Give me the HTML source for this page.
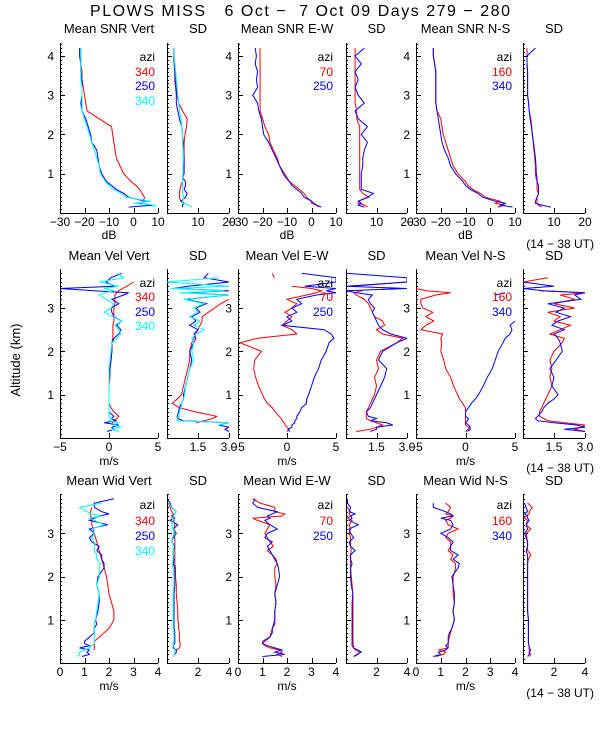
<!DOCTYPE html>
<html><head><meta charset="utf-8">
<style>
html,body{margin:0;padding:0;background:#fff;}
svg{display:block;font-family:"Liberation Sans",sans-serif;}
</style></head>
<body>
<svg id="chart" width="600" height="750" viewBox="0 0 600 750" xmlns="http://www.w3.org/2000/svg">
<rect width="600" height="750" fill="#fff"/>
<text x="90" y="16" font-size="16" textLength="420" lengthAdjust="spacing" xml:space="preserve">PLOWS MISS   6 Oct −  7 Oct 09 Days 279 − 280</text>
<text x="0" y="0" font-size="13" text-anchor="middle" transform="translate(20,360) rotate(-90)">Altitude (km)</text>
<text x="594" y="248" font-size="12" text-anchor="end">(14 − 38 UT)</text>
<text x="594" y="472" font-size="12" text-anchor="end">(14 − 38 UT)</text>
<text x="594" y="697" font-size="12" text-anchor="end">(14 − 38 UT)</text>
<g id="plots"></g>
</svg>
<script>
// ---------- altitude grids ----------
const alt1 = [0.15,0.2,0.25,0.3,0.4,0.5,0.6,0.7,0.8,0.9,1.0,1.2,1.4,1.6,1.8,2.0,2.2,2.4,2.6,2.8,3.0,3.2,3.4,3.6,3.8,4.0,4.2];
const alt2 = [0.15,0.2,0.25,0.3,0.35,0.4,0.45,0.5,0.6,0.7,0.8,0.9,1.0,1.2,1.4,1.6,1.8,2.0,2.2,2.3,2.4,2.5,2.6,2.7,2.8,2.9,3.0,3.1,3.2,3.3,3.35,3.4,3.45,3.5,3.6,3.7,3.8];
const alt3 = alt2;

// ---------- row 1: SNR ----------
const snrVertA = [null,null,null,4,4.5,3.5,2.5,1,-1,-2.5,-4,-5.5,-7,-7.5,-8,-8.5,-9,-14,-19,-19.5,-20,-20.5,-21,-21,-21.5,-21.5,-21.5];
const snrVertB = [-2,8,2,5,-2,-4,-7,-9,-11,-12,-13,-14,-14.5,-15,-17,-17.5,-18.5,-19.5,-21,-21.5,-21,-21,-21,-21.5,-21.5,-22,-22];
const snrVertC = [8,9,0,7,-3,-5,-8,-10,-11.5,-12.5,-13.5,-14,-15,-16,-17,-18,-19,-20,-21,-21,-21,-21,-21.5,-21.5,-21.5,-21.5,-21.5];
const snrVertSdA = [null,null,null,4.5,4,4,4.2,4.5,5,5,5.2,5.5,5.5,5.5,5.5,5.8,6.3,6.5,5,3.8,3.2,3,2.8,2.6,2.5,2.3,2.2];
const snrVertSdB = [5,5,5.5,4.5,6,6.5,5.5,6,6,5,5.5,5.5,5.5,5.2,5.2,5,4.8,4,3.5,3,3,2.8,2.5,2.5,2.3,2.2,2.2];
const snrVertSdC = [8,7,5,5,5.5,5,5,5,5,5,5.2,5.2,5.3,5.2,5,5,4.8,4.5,4,3.8,3.5,3.3,3,2.8,2.5,2.3,2.2];
const snrEwA = [3,2,0,0,-2,-3,-5,-7,-9,-10,-11,-13,-14,-15.5,-17,-17.5,-19,-20,-21,-21,-21,-21,-21,-21,-21,-21,-21];
const snrEwB = [4,2,1,0,-3,-4,-6,-8,-9,-10.5,-11.5,-13,-14.5,-16,-17.5,-19.5,-20,-20.5,-21.5,-22,-24,-22,-22.5,-22,-23,-22.5,-23];
const snrEwSdA = [7,6,4,4,7.5,5.5,4.5,4.5,4.5,4.5,4.5,4.5,4.5,4.5,4.5,4.5,4.5,3.5,3.5,3,3,3,3,3,3,3,3];
const snrEwSdB = [6,4,5,4,7,9,5,5,5,5,5,5.5,5.5,6,7,5,7,4,3,6,4,3,4,3,5,3,6];
const snrNsA = [3,6,2,4,-2,-4,-7,-9,-10,-11.5,-13,-15,-16,-17,-18,-19,-19.5,-20,-21.5,-22,-22,-22,-22,-22,-22.5,-23,-23];
const snrNsB = [9,4,6,2,-3,-5,-8,-10,-11,-12.5,-14,-16,-17,-18.5,-19.5,-20,-20.5,-21,-21.5,-22,-22,-22,-22,-22,-22.5,-23,-23];
const snrNsSdA = [6,5,4.5,4.5,4.5,5,4.5,4.5,4.5,4.2,4,4,3.8,3.5,3.3,3,2.8,2.5,2,1.8,1.5,1.5,1.5,1.5,1.3,1.3,1.3];
const snrNsSdB = [9,6,4,4,4.5,5,5,5,4.5,4.5,4.3,4.2,4,3.7,3.4,3,2.7,2.3,2,1.8,1.5,1.5,1.5,1.5,1.3,1.3,4];

// ---------- row 2: velocity ----------
const velVertA = [null,null,null,null,0.3,0.6,0.8,1.0,0.5,0.2,0,0,0,0,0.1,0.1,0.2,0.3,0.3,0.4,0.4,0.4,0.4,0.5,0.5,0.5,0.5,0.6,0.6,0.6,0.8,1.0,1.4,1.8,2.5,null,null];
const velVertB = [-0.2,0.5,0.3,1.0,-0.5,0.7,0.2,0.5,0,0,0,0,0,0,0,0.1,0.2,0.3,0.3,0.5,1.0,1.2,0.8,1.3,0.5,0.3,0.2,1.0,0.3,1.5,2.0,-1.5,-5,0.5,-0.3,0.2,1.3];
const velVertC = [1,0.2,1.2,0.5,1,0,0.3,0,0,0,0,0,0,0,0,0,0.1,0.2,0.3,0.8,1.2,1.0,0.6,1.3,0.4,-0.5,0.2,0.5,-0.3,-1,-0.5,0.5,-0.5,1.0,-1.0,1.5,0.8];
const velVertSdA = [null,null,null,null,1.4,1.8,2.2,2.4,1.4,0.6,0.25,0.5,0.7,0.8,0.9,1.0,1.1,1.1,1.2,1.3,1.4,1.5,1.6,1.7,1.7,2.0,2.3,2.6,3.0,null,null,null,null,null,2.6,null,null];
const velVertSdB = [3,2.8,3,2.5,3,0.8,0.5,0.5,0.55,0.6,0.7,0.8,0.8,0.9,1.0,1.1,1.2,1.1,1.3,1.4,1.3,1.5,1.1,1.4,1.2,1.6,1.4,1.9,0.9,3,0.9,3,0.3,1,3,1.8,2.0];
const velVertSdC = [null,null,null,2.5,3,0.5,0.5,0.6,0.6,0.7,0.7,0.8,0.85,0.9,1.0,1.1,1.3,1.2,1.3,1.2,1.4,1.8,1.3,1.6,1.1,1.5,1.3,1.8,0.8,3,0.6,2.8,0.2,3,0,2.5,null];
const velEwA = [0,0.2,0,-0.2,-0.3,-0.5,-0.6,-0.8,-1.2,-1.5,-2,-2.3,-2.5,-2.9,-3.2,-3.4,-3.3,-2.6,-4.8,-3,1,0.5,-0.5,0,0.5,-0.2,0.5,1,0,2,3,3.5,2.5,0.5,null,-1.3,-1.5];
const velEwB = [0.3,0.1,0.5,0.5,0.8,0.8,1,1,1.3,1.5,2,2,2.2,2.5,2.8,3.2,3.5,4,4.3,4.8,4.5,3.8,-0.5,0.5,0,1,0.5,1.5,1,3,5,4,5,1.8,5,5,1.5];
const velEwSdA = [0.5,1.2,1.5,1.8,1.5,1.2,1,1,1.0,1.1,1.2,1.3,1.4,1.5,1.4,1.6,1.5,1.7,2.5,2.8,1.8,1.5,1.9,1.8,1.4,1.3,1.2,1.1,0.9,0.5,0.4,0.8,null,0.3,3,null,null];
const velEwSdB = [1.2,1.5,1.5,2.3,2,1.2,1.5,1.1,1.0,1.2,1.3,1.4,1.5,1.7,1.9,2.0,1.6,1.8,2.5,3,2.2,1.8,1.6,1.5,1.4,1.3,1.4,1.2,1.1,1.3,0.5,0,3,0,3,3,0];
const velNsA = [0.2,0.5,0.3,0,0,0,0,0,0,0,-0.3,-0.6,-0.8,-1.2,-1.5,-2,-2.2,-2.5,-2.4,-2.5,-2.3,-4.5,-4,-3.2,-4,-3.3,-4.3,-4.5,-4.5,-3,-1.5,-4,-5,null,-5,null,null];
const velNsB = [0,0.3,0.5,0.3,0,0.2,0.3,0,0,0.3,0.6,1,1.3,1.8,2.2,2.7,3,3.3,3.8,4,4.5,4.7,4.5,5,null,null,null,null,null,3,4,null,null,null,null,null,null];
const velNsSdA = [3,2.5,2.8,3,2,1.2,1.0,0.8,0.8,0.9,1,1.1,1.2,1.4,1.3,1.4,1.3,1.5,1.9,2,1.3,1.8,2.3,1.5,1.8,1.2,2.5,1.5,2.5,1.8,3,0.8,null,null,0,1.2,null];
const velNsSdB = [3,2,3,2.6,1.5,0.7,0.6,0.7,0.9,1.0,1.2,1.5,1.7,1.4,1.5,1.3,1.6,1.9,1.8,1.7,1.5,2,1.4,1.7,2.3,1.6,2.0,1.2,2.8,2.5,3,1,0,1.5,0,null,null];

// ---------- row 3: width ----------
const widVertA = [null,null,null,1.4,1.4,1.4,1.4,1.4,1.6,1.8,2.0,2.1,2.2,2.2,2.1,2.0,1.95,1.9,1.8,1.75,1.7,1.65,1.6,1.55,1.5,1.45,1.4,1.35,1.3,1.3,1.3,1.25,1.25,1.25,1.3,null,null];
const widVertB = [0.9,1.2,1.1,1.2,0.8,1.2,1.0,1.0,1.2,1.4,1.4,1.5,1.45,1.55,1.6,1.6,1.5,1.55,1.8,1.8,1.7,1.7,1.5,1.6,1.3,1.2,1.4,1.2,1.95,1.2,1.4,1.6,2.0,1.7,1.4,1.4,2.2];
const widVertC = [0.7,0.8,0.8,1.0,1.2,1.3,1.4,1.4,1.4,1.4,1.4,1.4,1.45,1.5,1.55,1.6,1.5,1.6,1.6,1.65,1.5,1.5,1.4,1.4,1.4,1.3,1.4,1.3,1.8,1.4,1.2,1.7,1.3,1.1,0.8,1.7,null];
const widVertSdA = [null,null,null,0.6,0.8,0.85,0.85,0.8,0.8,0.8,0.75,0.75,0.7,0.7,0.65,0.6,0.6,0.55,0.55,0.5,0.5,0.5,0.5,0.5,0.5,0.5,0.45,0.45,0.5,0.4,0.5,0.4,0.4,0.3,0.2,0.1,null];
const widVertSdB = [0.4,0.5,0.6,0.6,0.4,0.4,0.5,0.5,0.5,0.5,0.45,0.45,0.45,0.45,0.45,0.45,0.5,0.5,0.5,0.4,0.45,0.4,0.4,0.5,0.3,0.4,0.6,0.4,0.7,0.2,0.4,0.3,0.5,0.6,0.3,0.2,0];
const widVertSdC = [0.4,0.5,0.5,0.5,0.5,0.4,0.4,0.45,0.45,0.45,0.4,0.4,0.4,0.4,0.4,0.4,0.45,0.45,0.4,0.35,0.4,0.4,0.4,0.45,0.3,0.35,0.5,0.4,0.3,0.5,0.3,0.4,0.5,0.6,0.3,0.1,null];
const widEwA = [1.8,1.6,1.8,1.7,1.3,1.1,1.0,1.1,1.3,1.35,1.4,1.45,1.5,1.5,1.55,1.5,1.55,1.5,1.5,1.6,1.55,1.4,1.2,1.45,1.3,1.2,1.1,1.2,1.3,0.8,0.6,1.8,1.9,1.5,1.5,0.9,0.6];
const widEwB = [1.0,1.9,1.5,1.8,1.5,1.2,1.0,1.0,1.3,1.4,1.4,1.5,1.5,1.5,1.55,1.5,1.6,1.7,1.65,1.6,1.5,1.4,1.3,1.2,1.4,1.1,1.2,1.6,1.3,1.1,1.3,1.2,1.4,1.6,0.8,0.6,0.7];
const widEwSdA = [0.5,0.8,0.9,0.6,0.5,0.5,0.45,0.45,0.45,0.45,0.45,0.45,0.45,0.45,0.45,0.45,0.4,0.35,0.3,0.3,0.3,0.3,0.35,0.3,0.3,0.3,0.2,0.3,0.2,0.4,0.1,0.3,0.2,0.3,0.1,null,null];
const widEwSdB = [0.5,0.7,1.0,0.8,0.5,0.4,0.4,0.4,0.4,0.4,0.4,0.4,0.4,0.4,0.4,0.45,0.35,0.3,0.3,0.4,0.3,0.3,0.6,0.3,0.2,0.5,0.3,0.2,0.8,0.2,0.4,0.3,0.6,0.2,0.3,0.1,0.1];
const widNsA = [0.8,1.1,1.2,0.9,1.3,1.3,1.3,1.3,1.35,1.4,1.45,1.5,1.55,1.5,1.55,1.5,1.5,1.5,1.6,1.6,1.4,1.5,1.3,1.4,1.4,1.2,1.3,1.7,1.3,1.2,1.4,1.5,1.2,1.3,1.4,1.2,null];
const widNsB = [0.7,1.0,0.9,1.2,1.3,1.2,1.3,1.3,1.3,1.35,1.45,1.5,1.55,1.5,1.55,1.55,1.5,1.45,1.7,1.75,1.5,1.7,1.4,1.4,1.5,1.3,1.0,1.4,1.5,1.4,1.0,1.5,1.4,1.2,0.7,0.7,null];
const widNsSdA = [0.4,0.5,0.4,0.4,0.4,0.4,0.35,0.35,0.35,0.35,0.35,0.35,0.35,0.3,0.3,0.3,0.3,0.3,0.3,0.3,0.35,0.5,0.3,0.3,0.3,0.25,0.2,0.5,0.2,0.3,0.1,0.2,0.4,0.4,0.6,0.3,null];
const widNsSdB = [0.3,0.4,0.4,0.5,0.4,0.4,0.35,0.35,0.35,0.35,0.35,0.35,0.35,0.3,0.3,0.3,0.3,0.3,0.3,0.3,0.3,0.3,0.2,0.3,0.3,0.2,0.1,0.3,0.2,0.4,0.3,0.3,0.1,0.3,0.2,0.1,null];

// ---------- tick values / labels ----------
const snrTicks = [-30,-20,-10,0,10];
const snrLabels = ['−30','−20','−10','0','10'];
const snrSdTicks = [10,20];
const snrSdLabels = ['10','20'];
const velTicks = [-5,0,5];
const velLabels = ['−5','0','5'];
const velSdTicks = [1.5,3.0];
const velSdLabels = ['1.5','3.0'];
const widTicks = [0,1,2,3,4];
const widLabels = ['0','1','2','3','4'];
const widSdTicks = [2,4];
const widSdLabels = ['2','4'];
const legendVert = ['340','250','340'];
const legendEw = ['70','250'];
const legendNs = ['160','340'];

// ---------- layout (not data) ----------
const RED='#ff0000', BLUE='#0000ff', CYAN='#00ffff';
const cols = [[60,158],[167,229],[238,336],[346,407],[416,515],[523,585]];
const rows = [
 {top:43,bot:213,ymax:4.33,alt:alt1,title:33,tick:226,xt:239,leg:[57,72,86,101]},
 {top:269,bot:438,ymax:3.9,alt:alt2,title:260,tick:451,xt:465,leg:[283,297,312,326]},
 {top:494,bot:663,ymax:3.91,alt:alt3,title:485,tick:676,xt:690,leg:[505,521,536,551]}
];
const panels = [
 {r:0,c:0,name:'snr-vert',title:'Mean SNR Vert',xr:[-30,10],t:snrTicks,l:snrLabels,xt:'dB',leg:legendVert,s:[[snrVertA,RED],[snrVertB,BLUE],[snrVertC,CYAN]]},
 {r:0,c:1,name:'snr-vert-sd',title:'SD',xr:[0,20],t:snrSdTicks,l:snrSdLabels,s:[[snrVertSdA,RED],[snrVertSdB,BLUE],[snrVertSdC,CYAN]]},
 {r:0,c:2,name:'snr-ew',title:'Mean SNR E-W',xr:[-30,10],t:snrTicks,l:snrLabels,xt:'dB',leg:legendEw,s:[[snrEwA,RED],[snrEwB,BLUE]]},
 {r:0,c:3,name:'snr-ew-sd',title:'SD',xr:[0,20],t:snrSdTicks,l:snrSdLabels,s:[[snrEwSdA,RED],[snrEwSdB,BLUE]]},
 {r:0,c:4,name:'snr-ns',title:'Mean SNR N-S',xr:[-30,10],t:snrTicks,l:snrLabels,xt:'dB',leg:legendNs,s:[[snrNsA,RED],[snrNsB,BLUE]]},
 {r:0,c:5,name:'snr-ns-sd',title:'SD',xr:[0,20],t:snrSdTicks,l:snrSdLabels,s:[[snrNsSdA,RED],[snrNsSdB,BLUE]]},
 {r:1,c:0,name:'vel-vert',title:'Mean Vel Vert',xr:[-5,5],t:velTicks,l:velLabels,xt:'m/s',leg:legendVert,s:[[velVertA,RED],[velVertB,BLUE],[velVertC,CYAN]]},
 {r:1,c:1,name:'vel-vert-sd',title:'SD',xr:[0,3],t:velSdTicks,l:velSdLabels,s:[[velVertSdA,RED],[velVertSdB,BLUE],[velVertSdC,CYAN]]},
 {r:1,c:2,name:'vel-ew',title:'Mean Vel E-W',xr:[-5,5],t:velTicks,l:velLabels,xt:'m/s',leg:legendEw,s:[[velEwA,RED],[velEwB,BLUE]]},
 {r:1,c:3,name:'vel-ew-sd',title:'SD',xr:[0,3],t:velSdTicks,l:velSdLabels,s:[[velEwSdA,RED],[velEwSdB,BLUE]]},
 {r:1,c:4,name:'vel-ns',title:'Mean Vel N-S',xr:[-5,5],t:velTicks,l:velLabels,xt:'m/s',leg:legendNs,s:[[velNsA,RED],[velNsB,BLUE]]},
 {r:1,c:5,name:'vel-ns-sd',title:'SD',xr:[0,3],t:velSdTicks,l:velSdLabels,s:[[velNsSdA,RED],[velNsSdB,BLUE]]},
 {r:2,c:0,name:'wid-vert',title:'Mean Wid Vert',xr:[0,4],t:widTicks,l:widLabels,xt:'m/s',leg:legendVert,s:[[widVertA,RED],[widVertB,BLUE],[widVertC,CYAN]]},
 {r:2,c:1,name:'wid-vert-sd',title:'SD',xr:[0,4],t:widSdTicks,l:widSdLabels,s:[[widVertSdA,RED],[widVertSdB,BLUE],[widVertSdC,CYAN]]},
 {r:2,c:2,name:'wid-ew',title:'Mean Wid E-W',xr:[0,4],t:widTicks,l:widLabels,xt:'m/s',leg:legendEw,s:[[widEwA,RED],[widEwB,BLUE]]},
 {r:2,c:3,name:'wid-ew-sd',title:'SD',xr:[0,4],t:widSdTicks,l:widSdLabels,s:[[widEwSdA,RED],[widEwSdB,BLUE]]},
 {r:2,c:4,name:'wid-ns',title:'Mean Wid N-S',xr:[0,4],t:widTicks,l:widLabels,xt:'m/s',leg:legendNs,s:[[widNsA,RED],[widNsB,BLUE]]},
 {r:2,c:5,name:'wid-ns-sd',title:'SD',xr:[0,4],t:widSdTicks,l:widSdLabels,s:[[widNsSdA,RED],[widNsSdB,BLUE]]}
];

const NS='http://www.w3.org/2000/svg';
const root=document.getElementById('plots');
function mk(tag,attrs,parent){const e=document.createElementNS(NS,tag);for(const k in attrs)e.setAttribute(k,attrs[k]);parent.appendChild(e);return e;}

panels.forEach(p=>{
  const R=rows[p.r];const [x0,x1]=cols[p.c];
  const g=mk('g',{},root);
  
  
  const xs=v=>x0+(v-p.xr[0])/(p.xr[1]-p.xr[0])*(x1-x0);
  const ys=a=>R.bot-a/R.ymax*(R.bot-R.top);
  const cid='clip-'+p.name;
  const cp=mk('clipPath',{id:cid},g);
  mk('rect',{x:x0,y:R.top,width:x1-x0,height:R.bot-R.top},cp);
  const ax=mk('path',{d:`M${x0+0.5},${R.top}V${R.bot+0.5}H${x1}`,stroke:'#000',fill:'none','stroke-width':1},g);
  
  
  let d='';
  for(let k=1;k*0.1<R.ymax;k++){const a=k*0.1;const y=Math.round(ys(a))+0.5;const len=(k%10===0)?5:2;d+=`M${x0},${y}h${len}`;}
  mk('path',{d:d,stroke:'#000','stroke-width':1},g);
  if(p.c%2===0){
    for(let v=1;v<R.ymax;v++){
      const t=mk('text',{x:x0-6,y:ys(v)+4.5,'font-size':12,'text-anchor':'end'},g);
      
      
      t.textContent=String(v);
    }
  }
  let dx='';
  p.t.forEach((v,i)=>{
    const x=Math.round(xs(v))+0.5;dx+=`M${x},${R.bot}v-5`;
    const t=mk('text',{x:xs(v),y:R.tick,'font-size':12,'text-anchor':'middle'},g);
    
    
    t.textContent=p.l[i];
  });
  mk('path',{d:dx,stroke:'#000','stroke-width':1},g);
  if(p.xt){
    const t=mk('text',{x:(x0+x1)/2,y:R.xt,'font-size':12,'text-anchor':'middle'},g);
    
    
    t.textContent=p.xt;
  }
  const tt=mk('text',{x:(x0+x1)/2,y:R.title,'font-size':13,'text-anchor':'middle'},g);
  
  
  tt.textContent=p.title;
  p.s.forEach(([vals,col],si)=>{
    let pd='',pen=false;
    vals.forEach((v,i)=>{
      if(v===null||v===undefined){pen=false;return;}
      pd+=(pen?'L':'M')+xs(v).toFixed(1)+','+ys(R.alt[i]).toFixed(1);pen=true;
    });
    const path=mk('path',{d:pd,stroke:col,fill:'none','stroke-width':1,'clip-path':`url(#${cid})`},g);
    
    
  });
  if(p.leg){
    const cl=[RED,BLUE,CYAN];
    const a=mk('text',{x:x1-3,y:R.leg[0]+4,'font-size':12,'text-anchor':'end'},g);
    
    
    a.textContent='azi';
    p.leg.forEach((s,i)=>{
      const t=mk('text',{x:x1-3,y:R.leg[i+1]+4,'font-size':12,'text-anchor':'end',fill:cl[i]},g);
      
      
      t.textContent=s;
    });
  }
});
</script>
</body></html>
